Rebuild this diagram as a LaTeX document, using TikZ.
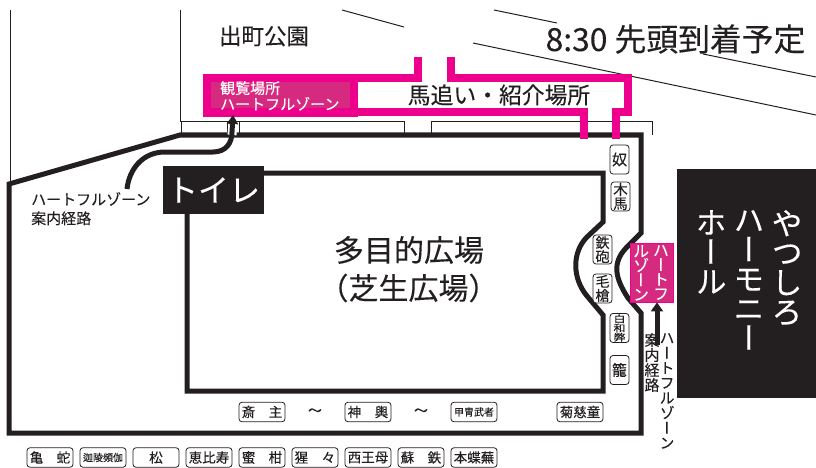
\documentclass[tikz,border=0pt]{standalone}
\usepackage{fontspec}
\setmainfont[FakeBold=0.15]{Noto Sans CJK JP}
\newfontfamily\jpv[Script=CJK,RawFeature=+vert,FakeBold=0.15]{Noto Sans CJK JP}
\newcommand\pxf[1]{\fontsize{#1}{#1}\selectfont}
\newcommand\pxl[2]{\fontsize{#1}{#2}\selectfont}
\definecolor{ink}{HTML}{231F20}
\definecolor{hot}{HTML}{EC008C}
\definecolor{muted}{HTML}{D62A80}
\usetikzlibrary{arrows.meta}
\tikzset{
  wall/.style={draw=ink,line width=5pt,line join=miter},
  thin line/.style={draw=ink,line width=1pt},
  band/.style={draw=hot,line width=8pt,line join=miter},
  route/.style={draw=ink,line width=5pt},
  tag/.style={draw=ink,line width=.8pt,rounded corners=3pt,fill=white,inner sep=0pt,text=ink,align=center},
  htag/.style={tag,minimum width=46pt,minimum height=19.5pt,font=\pxf{13.5}},
  vtag/.style={tag,minimum width=19pt,minimum height=29pt},
  lab/.style={text=ink,inner sep=0pt,align=center},
  wlab/.style={text=white,inner sep=0pt,align=center},
}
\begin{document}
\begin{tikzpicture}[x=1pt,y=-1pt]
\useasboundingbox (0,0) rectangle (816,468);
% thin site lines
\draw[thin line] (10,10) -- (10,183);
\draw[thin line] (180,10) -- (180,122);
\draw[thin line] (342,10) -- (404,27);
\draw[thin line] (494,10) -- (557,23);
\draw[thin line] (473,43) -- (816,115);
\draw[thin line] (703,54) -- (816,77);
\draw[thin line] (181,134) |- (404,121.5) -- (404,134);
\draw[thin line] (431,134) |- (652,121.5) -- (652,135);
\draw[thin line] (227,122) -- (227,134);
\draw[thin line] (239,122) -- (239,134);
% walls
\draw[wall] (9,433) -- (9,184) -- (180,135) -- (641,135) -- (641,233)
  -- (626,248) .. controls (612,263) and (615,278) .. (628,298) -- (641,313) -- (641,433) -- cycle;
\draw[wall] (187,391) -- (187,173) -- (603,173) -- (603,222)
  -- (587,237) .. controls (572,252) and (572,278) .. (587,296) -- (603,315) -- (603,391) -- cycle;
% pink bands
\fill[hot] (203,74) rectangle (358,117);
\node[fill=muted,minimum width=139pt,minimum height=26pt,inner sep=0pt] (zone) at (280.5,95) {};
\draw[band] (418,57) -- (418,78) -- (350,78);
\draw[band] (350,112) -- (584,112) -- (584,139);
\draw[band] (451,57) -- (451,78) -- (628,78) -- (628,112) -- (616,112) -- (616,139);
\node[wlab,font=\pxf{15},align=left,anchor=north west] (zonetext) at (220,81) {観覧場所\\[1pt]ハートフルゾーン};
% texts top
\node[lab,font=\pxf{22.5}] (park) at (264,36) {出町公園};
\node[lab,font=\pxf{31.8}] (eta) at (675.5,39) {8:30 先頭到着予定};
\node[lab,font=\pxf{22.8}] (umaoi) at (499,95) {馬追い・紹介場所};
% toilet
\node[fill=ink,minimum width=101pt,minimum height=48pt,inner sep=0pt] (toilet) at (213.5,190) {};
\node[text=white,inner sep=0pt,font=\pxf{31}] (toilettext) at (213.5,190) {トイレ};
% hall
\node[fill=ink,minimum width=139pt,minimum height=229pt,inner sep=0pt] (hall) at (746.5,283.5) {};
\node[wlab,font=\jpv\pxl{31}{29.5},anchor=north] (h1) at (787,210) {や\\つ\\し\\ろ};
\node[wlab,font=\jpv\pxl{31}{29.5},anchor=north] (h2) at (749,210) {ハ\\ー\\モ\\ニ\\ー};
\node[wlab,font=\jpv\pxl{31}{29.5},anchor=north] (h3) at (711,210) {ホ\\ー\\ル};
% square labels
\node[lab,font=\pxf{30}] (sq1) at (409,250) {多目的広場};
\node[lab,font=\pxf{30}] (sq2) at (408.5,288) {（芝生広場）};
% heartful route left
\node[lab,font=\pxf{15},align=left,anchor=north west] (leftlab) at (31,192) {ハートフルゾーン\\[4pt]案内経路};
\coordinate (leftstart) at (127,189);
\coordinate (lefttip) at (233,115);
\draw[white,line width=9pt] (232,135) -- (233,123);
\draw[route,-{Triangle[length=9pt,width=11pt]}] (leftstart) .. controls (129,170) and (142,152) .. (165,152) -- (213,152) .. controls (226,152) and (232,143) .. (232,132) -- (lefttip);
% right zone
\node[fill=muted,draw=hot,line width=.8pt,minimum width=43pt,minimum height=59pt,inner sep=0pt] (rzone) at (651.5,272.5) {};
\node[wlab,font=\jpv\pxl{16}{14.5},anchor=north] (rz1) at (661,245) {ハ\\ー\\ト\\フ};
\node[wlab,font=\jpv\pxl{16}{14.5},anchor=north] (rz2) at (641,245) {ル\\ゾ\\ー\\ン};
\coordinate (rstart) at (657,345);
\draw[route,-{Triangle[length=9pt,width=12pt]}] (rstart) -- (rzone.south -| rstart);
\node[lab,font=\jpv\pxf{15},anchor=north] (rl1) at (652,333) {案\\内\\経\\路};
\node[lab,font=\jpv\pxf{15},anchor=north] (rl2) at (667,333) {ハ\\ー\\ト\\フ\\ル\\ゾ\\ー\\ン};
% vertical tags
\node[vtag,font=\pxf{15}] (t1) at (619.5,159.5) {奴};
\node[vtag,font=\pxl{14.5}{14}] (t2) at (620.5,196.5) {木\\馬};
\node[vtag,font=\pxl{14}{14}] (t3) at (602.5,249.5) {鉄\\砲};
\node[vtag,font=\pxl{14}{14}] (t4) at (602.5,288.5) {毛\\槍};
\node[vtag,font=\pxl{9.5}{9.2}] (t5) at (619.5,328) {\scalebox{1.25}[1]{白}\\\scalebox{1.25}[1]{和}\\\scalebox{1.25}[1]{弊}};
\node[vtag,font=\pxf{15}] (t6) at (619.5,370) {籠};
% horizontal tags middle
\node[htag] (m1) at (262,412) {斎　主};
\node[lab,font=\pxf{14}] (w1) at (315,412) {～};
\node[htag] (m2) at (368,412) {神　輿};
\node[lab,font=\pxf{14}] (w2) at (421,412) {～};
\node[htag,font=\pxf{10}] (m3) at (474,412) {甲冑武者};
\node[htag] (m4) at (580,412) {菊慈童};
% bottom row
\node[htag] (b1) at (50,457.5) {亀　蛇};
\node[htag,font=\pxf{10}] (b2) at (103,457.5) {迦陵頻伽};
\node[htag] (b3) at (156,457.5) {松};
\node[htag] (b4) at (209,457.5) {恵比寿};
\node[htag] (b5) at (262,457.5) {蜜　柑};
\node[htag] (b6) at (315,457.5) {猩　々};
\node[htag] (b7) at (368,457.5) {西王母};
\node[htag] (b8) at (421,457.5) {蘇　鉄};
\node[htag] (b9) at (474,457.5) {本蝶蕪};
\end{tikzpicture}
\end{document}
